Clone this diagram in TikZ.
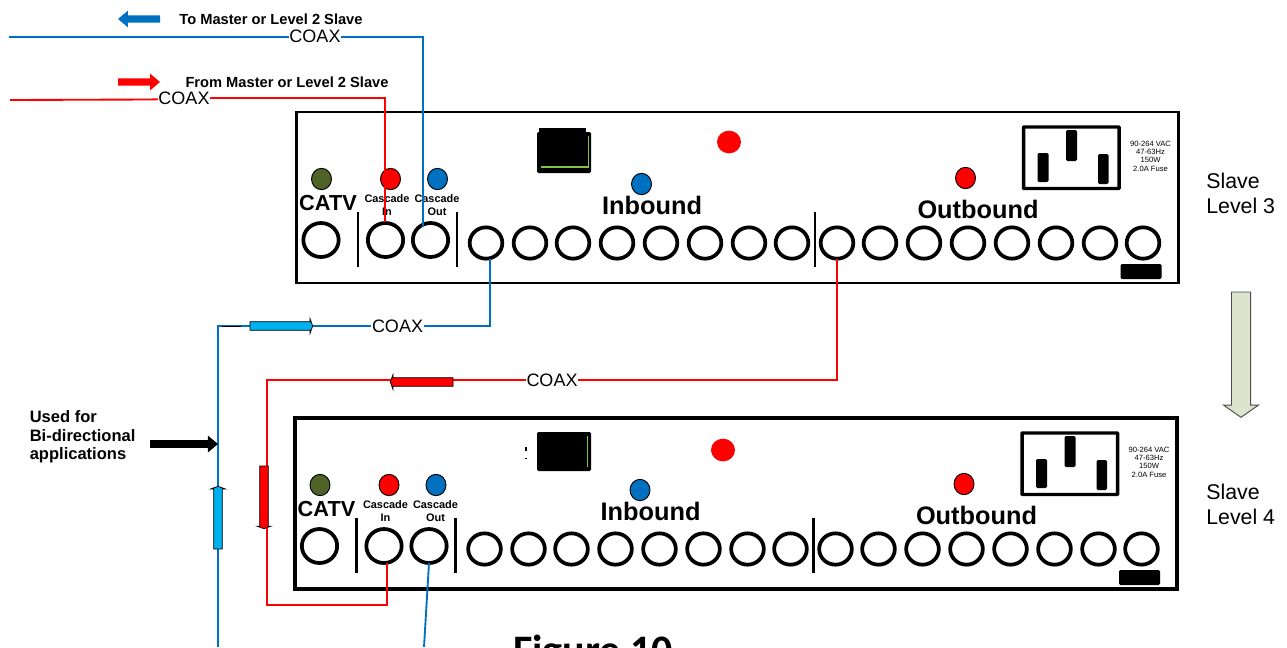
\documentclass[tikz,border=0pt]{standalone}
\usepackage{fontspec}
\setmainfont{Liberation Sans}
\newfontfamily\capfont{Carlito}
\usetikzlibrary{positioning, shapes.geometric, shapes.arrows}
\definecolor{wireblue}{HTML}{0070C0}
\definecolor{wirered}{HTML}{FF0000}
\definecolor{ledgreen}{HTML}{4F6228}
\definecolor{flowcyan}{HTML}{00B0F0}
\definecolor{flowgrey}{HTML}{DDE3CC}
\definecolor{jackgreen}{HTML}{86C440}
\begin{document}
\begin{tikzpicture}[
      x=0.75pt, y=-0.75pt,
      port/.style={ellipse, draw, line width=2.8pt, inner sep=0pt, outer sep=0pt, minimum width=24.5pt, minimum height=23.5pt},
      bigport/.style={port, minimum width=26.5pt, minimum height=25.5pt},
      led/.style={ellipse, draw, line width=0.7pt, inner sep=0pt, minimum width=15pt, minimum height=16pt},
      divider/.style={line width=2.2pt},
      bluewire/.style={draw=wireblue, line width=1.4pt},
      redwire/.style={draw=wirered, line width=1.4pt},
      coax/.style={fill=white, inner sep=0.6pt, font=\fontsize{13.5}{15}\selectfont},
      panellabel/.style={font=\bfseries\fontsize{19}{21}\selectfont, inner sep=0pt},
      catvlabel/.style={font=\bfseries\fontsize{16.3}{18}\selectfont, inner sep=0pt},
      cascade/.style={font=\bfseries\fontsize{8.2}{9.5}\selectfont, align=center, inner sep=0pt},
      note/.style={font=\bfseries\fontsize{11}{14}\selectfont, inner sep=0pt},
      level/.style={font=\fontsize{16}{18.7}\selectfont, align=left, inner sep=0pt, anchor=west},
      blockarrow/.style={single arrow, anchor=tail, inner sep=#1, outer sep=0pt},
      flowarrow/.style={blockarrow=2.9pt, draw=black, line width=0.6pt, minimum height=47pt, single arrow head extend=2pt, single arrow tip angle=140},
    ]
      \useasboundingbox (0,0) rectangle (1287,647);

      \foreach \p/\dx/\dy/\rim/\ledx/\ledy in {u/0/0/1.9pt/729/142, l/-1.5/306/3pt/724.5/144} {
        \begin{scope}[shift={(\dx,\dy)}]
          \node[draw, line width=\rim, inner sep=0pt, minimum width=661.5pt, minimum height=128.5pt] (\p panel) at (737.5,197.5) {};
          \node[bigport] (\p catv) at (321,240) {};
          \node[bigport] (\p in) at (385.5,240) {};
          \node[bigport] (\p out) at (430.5,240) {};
          \foreach \x [count=\i] in {486,530,573,617,661,705,749,792}
            \node[port] (\p inb\i) at (\x,243) {};
          \foreach \x [count=\i] in {837,880,924,968,1012,1056,1100,1143}
            \node[port] (\p outb\i) at (\x,243) {};
          \foreach \x in {358,457,815}
            \draw[divider] (\x,212) -- (\x,267);
          \node[led, fill=ledgreen] (\p ledcatv) at (321.5,179) {};
          \node[led, fill=wirered] (\p ledin) at (390.5,179) {};
          \node[led, fill=wireblue] (\p ledout) at (437.5,179) {};
          \node[led, fill=wireblue] (\p ledinb) at (641.5,184) {};
          \node[led, fill=wirered] (\p ledoutb) at (965.5,178) {};
          \node[ellipse, fill=wirered, inner sep=0pt, minimum width=18pt, minimum height=17pt] (\p ledbig) at (\ledx,\ledy) {};
          \node[catvlabel] (\p catvtxt) at (328,203) {CATV};
          \node[cascade] (\p intxt) at (387,205) {Cascade\\In};
          \node[cascade] (\p outtxt) at (437,205) {Cascade\\Out};
          \node[panellabel] (\p inbtxt) at (652,205.5) {Inbound};
          \node[panellabel] (\p outbtxt) at (978,209.5) {Outbound};
          \draw[line width=2.6pt, rounded corners=0.5pt] (1023.5,127) rectangle (1119,188.5);
          \fill[rounded corners=1pt] (1037.5,153) rectangle (1048.5,182);
          \fill[rounded corners=1pt] (1066,130) rectangle (1077,161);
          \fill[rounded corners=1pt] (1098,154) rectangle (1108.5,184);
          \node[align=center, inner sep=0pt, font=\fontsize{5.7}{6.3}\selectfont] (\p spec) at (1150.5,156) {90-264 VAC\\47-63Hz\\150W\\2.0A Fuse};
          \fill[rounded corners=1pt] (1120.5,264) rectangle (1161.5,279);
        \end{scope}
      }

      \fill[rounded corners=1pt] (537,132) rectangle (591,173);
      \fill (539,128) rectangle (586,134);
      \draw[jackgreen, line width=1pt] (588.5,136) -- (588.5,167) -- (541,167);
      \fill[rounded corners=1pt] (537,432) rectangle (591,471);
      \draw[jackgreen, line width=1.1pt] (587.5,436) -- (587.5,467);
      \fill (525,447) rectangle (527,451);
      \fill (525,458) rectangle (527,459);

      \node[level] (lvlthree) at (1206,193.5) {Slave\\Level 3};
      \node[level] (lvlfour) at (1206,504.5) {Slave\\Level 4};

      \coordinate (bluestart) at (9,37);
      \coordinate (redstart) at (10,100);
      \coordinate (bluedown) at (218,647);
      \coordinate (lowerout) at (424,647);
      \coordinate (redlow) at (267,605);

      \draw[bluewire] (bluestart) -- (423,37) -- (423,227);
      \draw[redwire] (redstart) -- (150,99.5) -- (200,98) -- (385,98) -- (385,222);
      \draw[bluewire] (uinb1.south -| 490,0) |- (218,326) -- (bluedown);
      \draw[redwire] (uoutb1.south) |- (267,380) -- (redlow) -| (lin.-80);
      \draw[bluewire] (lout.south) -- (lowerout);
      \draw[black, line width=0.6pt] (222,326) -- (241,326);

      \node[coax] (coaxa) at (315,36) {COAX};
      \node[coax] (coaxb) at (184,98) {COAX};
      \node[coax] (coaxc) at (397.5,326) {COAX};
      \node[coax] (coaxd) at (552,380) {COAX};

      \node[blockarrow=2.6pt, fill=wireblue, minimum height=31.5pt, minimum width=12pt, single arrow head extend=3.4pt, single arrow tip angle=80, rotate=180] (toarrow) at (160,19) {};
      \node[blockarrow=2.6pt, fill=wirered, minimum height=31.5pt, minimum width=12pt, single arrow head extend=3.4pt, single arrow tip angle=80] (fromarrow) at (118,82) {};
      \node[note] (totxt) at (271,19) {To Master or Level 2 Slave};
      \node[note] (fromtxt) at (287,82) {From Master or Level 2 Slave};

      \node[flowarrow, fill=flowcyan] (cyanright) at (250,326) {};
      \node[flowarrow, fill=wirered, rotate=180] (redleft) at (453,382) {};
      \node[flowarrow, fill=wirered, rotate=-90] (reddown) at (264,466) {};
      \node[flowarrow, fill=flowcyan, rotate=90] (cyanup) at (218,549) {};

      \node[blockarrow=2.7pt, fill=black, minimum height=51pt, minimum width=12pt, single arrow head extend=3.4pt, single arrow tip angle=80] (bidiarrow) at (150,444) {};
      \node[note, align=left, anchor=west, font=\bfseries\fontsize{12.4}{14}\selectfont] (bidi) at (29.5,437) {Used for\\Bi-directional\\applications};

      \node[blockarrow=6.8pt, fill=flowgrey, draw=black!70, line width=0.7pt, minimum height=94pt, single arrow head extend=6pt, single arrow tip angle=110, rotate=-90] (levelarrow) at (1241,292) {};

      \node[inner sep=0pt, anchor=base, font=\capfont\bfseries\fontsize{31.5}{34}\selectfont] (figcap) at (593,664) {Figure 10};
    \end{tikzpicture}
\end{document}
